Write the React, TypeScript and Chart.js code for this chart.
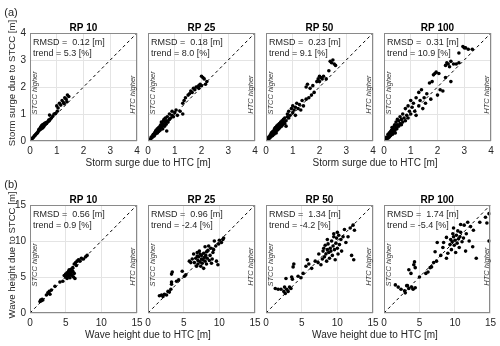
import React, { useEffect, useRef } from 'react';
import { Chart, registerables } from 'chart.js';
Chart.register(...registerables);

type Pt = [number, number];

// ---------------- data ----------------
const surgeRP10: Pt[] = [
  [0.02, 0.02], [0.05, 0.05], [0.08, 0.09], [0.1, 0.11], [0.12, 0.13], [0.15, 0.17], [0.18, 0.2], [0.2, 0.22],
  [0.22, 0.25], [0.25, 0.28], [0.27, 0.3], [0.3, 0.33], [0.32, 0.38], [0.33, 0.42], [0.35, 0.4], [0.36, 0.45],
  [0.38, 0.44], [0.4, 0.47], [0.4, 0.52], [0.42, 0.45], [0.43, 0.55], [0.45, 0.5], [0.45, 0.58], [0.47, 0.48],
  [0.48, 0.6], [0.5, 0.52], [0.5, 0.62], [0.52, 0.55], [0.55, 0.6], [0.55, 0.66], [0.58, 0.62], [0.6, 0.68],
  [0.62, 0.65], [0.65, 0.7], [0.68, 0.72], [0.7, 0.78], [0.72, 0.75], [0.75, 0.8], [0.73, 0.96], [0.8, 0.85],
  [0.85, 0.92], [0.9, 1.0], [0.95, 1.02], [1.0, 1.3], [1.02, 1.1], [1.05, 1.22], [1.1, 1.4], [1.15, 1.33],
  [1.2, 1.5], [1.25, 1.42], [1.3, 1.6], [1.35, 1.55], [1.4, 1.7], [1.45, 1.65], [1.38, 1.45], [1.28, 1.38],
];
const surgeRP25: Pt[] = [
  [0.05, 0.05], [0.1, 0.08], [0.12, 0.15], [0.15, 0.12], [0.18, 0.2], [0.2, 0.25], [0.22, 0.18], [0.25, 0.3],
  [0.25, 0.22], [0.28, 0.35], [0.3, 0.28], [0.3, 0.4], [0.32, 0.32], [0.35, 0.45], [0.35, 0.3], [0.38, 0.38],
  [0.4, 0.5], [0.4, 0.35], [0.42, 0.42], [0.45, 0.55], [0.45, 0.4], [0.48, 0.6], [0.5, 0.48], [0.5, 0.7],
  [0.52, 0.55], [0.55, 0.65], [0.55, 0.45], [0.58, 0.75], [0.6, 0.6], [0.6, 0.8], [0.62, 0.55], [0.65, 0.7],
  [0.65, 0.85], [0.68, 0.62], [0.7, 0.75], [0.72, 0.9], [0.75, 0.7], [0.7, 0.37], [0.8, 0.8], [0.8, 1.0],
  [0.85, 0.85], [0.9, 1.1], [0.9, 0.95], [0.95, 0.9], [1.0, 1.05], [1.05, 1.15], [1.1, 0.95], [1.2, 1.1],
  [1.3, 1.0], [1.3, 1.4], [1.35, 1.5], [1.4, 1.6], [1.5, 1.7], [1.55, 1.75], [1.6, 1.85], [1.65, 1.8],
  [1.7, 1.95], [1.75, 1.9], [1.8, 2.0], [1.85, 2.0], [1.9, 1.95], [1.95, 2.1], [2.0, 2.4], [2.05, 2.35],
  [2.1, 2.3], [2.0, 2.05], [2.15, 2.1], [2.2, 2.2], [1.9, 2.05],
];
const surgeRP50: Pt[] = [
  [0.02, 0.03], [0.05, 0.08], [0.08, 0.05], [0.1, 0.15], [0.12, 0.1], [0.15, 0.2], [0.15, 0.12], [0.18, 0.25],
  [0.2, 0.18], [0.2, 0.3], [0.22, 0.22], [0.25, 0.35], [0.25, 0.2], [0.28, 0.3], [0.3, 0.4], [0.3, 0.25],
  [0.32, 0.45], [0.35, 0.35], [0.35, 0.5], [0.38, 0.3], [0.4, 0.45], [0.4, 0.55], [0.42, 0.4], [0.45, 0.5],
  [0.45, 0.6], [0.48, 0.45], [0.5, 0.55], [0.5, 0.65], [0.52, 0.5], [0.55, 0.6], [0.55, 0.7], [0.58, 0.55],
  [0.6, 0.65], [0.6, 0.75], [0.62, 0.6], [0.65, 0.8], [0.68, 0.7], [0.7, 0.65], [0.7, 0.85], [0.75, 0.75],
  [0.75, 0.55], [0.8, 0.9], [0.8, 1.0], [0.85, 0.85], [0.85, 1.1], [0.9, 0.95], [0.95, 1.2], [1.0, 1.05],
  [1.0, 1.3], [1.05, 1.15], [1.1, 1.25], [1.1, 0.95], [1.15, 1.4], [1.2, 1.2], [1.25, 1.35], [1.3, 1.15],
  [1.35, 1.5], [1.4, 1.3], [1.5, 1.55], [1.5, 2.0], [1.55, 2.1], [1.6, 1.6], [1.65, 1.95], [1.7, 1.7],
  [1.75, 2.05], [1.8, 1.8], [1.9, 2.2], [1.95, 2.3], [2.0, 2.4], [2.05, 2.35], [2.1, 2.3], [2.15, 2.4],
  [2.0, 2.2], [2.25, 2.3], [2.4, 2.95], [2.45, 2.9], [2.5, 3.0], [2.55, 2.85], [2.6, 2.8], [2.35, 2.6],
];
const surgeRP100: Pt[] = [
  [0.03, 0.05], [0.05, 0.1], [0.08, 0.06], [0.1, 0.15], [0.12, 0.12], [0.15, 0.25], [0.15, 0.1], [0.18, 0.2],
  [0.2, 0.3], [0.2, 0.15], [0.22, 0.25], [0.25, 0.35], [0.25, 0.2], [0.28, 0.4], [0.3, 0.3], [0.3, 0.5],
  [0.32, 0.25], [0.35, 0.45], [0.35, 0.35], [0.38, 0.55], [0.4, 0.4], [0.4, 0.6], [0.42, 0.3], [0.45, 0.5],
  [0.45, 0.7], [0.48, 0.45], [0.5, 0.6], [0.5, 0.8], [0.55, 0.55], [0.55, 0.75], [0.6, 0.65], [0.6, 0.9],
  [0.65, 0.6], [0.65, 0.8], [0.7, 0.7], [0.7, 1.0], [0.75, 0.85], [0.8, 0.75], [0.8, 1.2], [0.85, 0.95],
  [0.9, 1.3], [0.9, 0.85], [0.95, 1.1], [1.0, 1.5], [1.0, 1.0], [1.05, 1.25], [1.1, 1.4], [1.15, 1.1],
  [1.2, 1.6], [1.2, 0.95], [1.3, 1.3], [1.3, 1.8], [1.35, 1.5], [1.4, 1.9], [1.45, 1.2], [1.5, 1.6],
  [1.55, 1.4], [1.6, 1.75], [1.7, 2.15], [1.75, 1.55], [1.8, 2.2], [1.85, 2.45], [1.9, 2.5], [1.95, 2.55],
  [2.0, 1.7], [2.05, 2.5], [2.1, 1.9], [2.2, 1.85], [2.3, 2.8], [2.35, 2.9], [2.4, 2.85], [2.45, 2.75],
  [2.5, 2.95], [2.6, 2.85], [2.7, 2.85], [2.8, 2.9], [2.3, 2.35], [2.5, 2.2], [2.8, 3.26], [2.95, 3.5],
  [3.05, 3.45], [3.15, 3.4], [3.3, 3.4], [3.0, 3.45],
];
const waveRP10: Pt[] = [
  [1.4, 1.6], [1.5, 1.8], [1.6, 1.7], [1.7, 1.9], [1.8, 1.8], [2.3, 2.5], [2.5, 2.8], [2.7, 3.0], [2.8, 2.6],
  [3.0, 3.2], [3.5, 3.7], [4.2, 4.3], [4.6, 4.4], [4.8, 5.2], [5.0, 5.0], [5.0, 5.4], [5.2, 4.8], [5.2, 5.6],
  [5.3, 5.2], [5.4, 5.8], [5.5, 5.5], [5.5, 6.0], [5.6, 4.9], [5.6, 5.3], [5.7, 5.9], [5.8, 5.6], [5.8, 6.1],
  [5.9, 5.2], [6.0, 5.8], [6.0, 6.3], [6.1, 5.0], [6.2, 5.5], [6.3, 4.8], [6.2, 6.8], [6.4, 7.0], [6.5, 6.6],
  [6.6, 7.2], [6.8, 7.4], [7.0, 7.2], [7.2, 7.6], [7.5, 7.5], [7.8, 7.8], [8.0, 8.0], [5.0, 5.3], [5.4, 5.1],
];
const waveRP25: Pt[] = [
  [1.6, 2.4], [1.9, 2.5], [2.1, 2.3], [2.3, 2.6], [2.6, 2.5], [2.8, 3.0], [3.0, 2.9], [3.2, 3.3], [3.3, 4.0],
  [3.3, 4.3], [3.3, 5.4], [3.4, 5.7], [4.0, 4.4], [4.3, 4.6], [4.8, 5.8], [5.1, 5.1], [5.3, 5.3], [5.8, 7.2],
  [6.2, 7.5], [6.4, 8.2], [6.5, 7.0], [6.7, 7.6], [6.8, 6.5], [6.9, 8.4], [7.0, 7.3], [7.0, 6.8], [7.1, 7.8],
  [7.2, 8.6], [7.3, 7.1], [7.4, 6.5], [7.5, 7.5], [7.5, 8.0], [7.6, 6.9], [7.7, 7.4], [7.8, 8.3], [7.8, 6.2],
  [7.9, 7.7], [8.0, 7.2], [8.0, 9.2], [8.1, 8.0], [8.2, 6.8], [8.3, 7.6], [8.4, 8.7], [8.5, 9.3], [8.6, 7.3],
  [8.7, 8.0], [8.8, 9.0], [8.9, 6.9], [9.0, 7.5], [9.1, 8.4], [9.2, 8.8], [9.3, 10.0], [9.5, 9.3], [9.6, 7.2],
  [9.8, 6.7], [9.9, 9.6], [10.0, 10.1], [10.3, 9.8], [10.5, 10.2], [10.6, 10.4], [6.9, 7.9], [7.3, 8.2],
  [8.2, 8.5], [6.0, 7.0],
];
const waveRP50: Pt[] = [
  [1.3, 3.4], [1.7, 3.3], [2.1, 3.3], [2.5, 3.0], [2.6, 3.6], [2.7, 2.7], [2.9, 3.3], [3.1, 3.0], [3.3, 3.6],
  [3.5, 3.4], [2.8, 4.8], [3.6, 5.0], [3.7, 4.7], [3.8, 6.4], [3.9, 6.8], [4.5, 5.1], [4.9, 4.9], [5.2, 5.5],
  [5.6, 6.5], [5.8, 7.4], [6.0, 6.8], [6.4, 6.2], [6.9, 7.2], [7.3, 7.0], [7.4, 8.2], [7.7, 6.7], [7.9, 7.5],
  [8.0, 8.6], [8.1, 9.0], [8.2, 7.8], [8.3, 9.4], [8.4, 8.2], [8.5, 7.2], [8.6, 8.8], [8.7, 9.6], [8.8, 8.4],
  [8.9, 7.6], [9.0, 9.0], [9.1, 8.6], [9.2, 10.0], [9.3, 8.0], [9.4, 9.3], [9.5, 10.6], [9.6, 8.8], [9.7, 7.4],
  [9.8, 9.7], [9.9, 10.4], [10.0, 9.0], [10.1, 8.2], [10.2, 10.8], [10.3, 9.5], [10.5, 10.2], [10.6, 8.6],
  [10.8, 10.6], [11.0, 11.6], [11.2, 9.8], [11.5, 10.6], [12.0, 8.0], [12.3, 7.4], [11.8, 11.8], [12.2, 12.2],
  [12.4, 11.5], [9.5, 11.0], [10.0, 11.2], [8.6, 10.2],
];
const waveRP100: Pt[] = [
  [1.6, 3.9], [2.0, 3.6], [2.4, 3.3], [2.9, 3.1], [3.2, 3.8], [3.3, 3.8], [3.5, 3.4], [3.9, 3.6], [4.1, 3.3],
  [4.4, 3.5], [3.0, 2.8], [3.5, 6.0], [3.8, 5.5], [4.2, 6.7], [4.3, 7.1], [4.4, 6.3], [5.0, 5.0], [5.9, 5.5],
  [6.2, 5.7], [6.7, 6.4], [7.0, 7.0], [7.2, 8.5], [7.4, 7.2], [8.0, 8.0], [8.3, 9.1], [8.4, 9.8], [8.8, 7.6],
  [9.0, 8.3], [9.3, 9.5], [9.4, 10.2], [9.5, 8.8], [9.6, 9.9], [9.7, 11.0], [9.8, 10.6], [9.9, 9.4], [10.0, 10.1],
  [10.1, 8.4], [10.2, 10.8], [10.3, 9.7], [10.4, 11.4], [10.5, 10.3], [10.6, 9.1], [10.7, 10.6], [10.8, 11.2],
  [11.0, 9.9], [11.2, 10.4], [11.3, 12.2], [11.5, 8.6], [11.6, 11.0], [11.8, 12.6], [12.0, 10.0], [12.2, 12.0],
  [12.5, 9.2], [12.6, 11.5], [13.0, 7.6], [13.5, 12.6], [14.3, 13.3], [14.8, 13.8], [14.8, 10.0], [14.5, 12.5],
  [8.8, 10.5], [9.8, 11.8], [10.8, 12.3], [7.5, 9.8], [6.5, 6.3],
];

const rpTitles = ['RP 10', 'RP 25', 'RP 50', 'RP 100'];
const surgeRMSD = ['0.12', '0.18', '0.23', '0.31'];
const surgeTrend = ['5.3', '8.0', '9.1', '10.9'];
const waveRMSD = ['0.56', '0.96', '1.34', '1.74'];
const waveTrend = ['0.9', '-2.4', '-4.2', '-5.4'];
const surgeTicks = [0, 1, 2, 3, 4];
const waveTicks = [0, 5, 10, 15];
const surgeXLabel = 'Storm surge due to HTC [m]';
const surgeYLabel = 'Storm surge due to STCC [m]';
const waveXLabel = 'Wave height due to HTC [m]';
const waveYLabel = 'Wave height due to STCC [m]';
const rowTags = ['(a)', '(b)'];
const leftNote = 'STCC higher';
const rightNote = 'HTC higher';

// ---------------- layout ----------------
const W = 500;
const H = 346;
const PANEL_LEFTS = [30, 148, 266, 384];
const PANEL_W = 107;
const PANEL_H = 108;
const ROW_TOPS = [33, 205];
const YW = 26;
const XH = 16;
const FONT = '"Liberation Sans", Arial, Helvetica, sans-serif';
const TEXT = '#262626';

interface PanelProps {
  pts: Pt[];
  ticks: number[];
  left: number;
  top: number;
  title: string;
  rmsd: string;
  trend: string;
  showY: boolean;
}

function Panel({ pts, ticks, left, top, title, rmsd, trend, showY }: PanelProps) {
  const ref = useRef<HTMLCanvasElement>(null);
  useEffect(() => {
    if (!ref.current) return;
    const max = ticks[ticks.length - 1];
    const setTicks = (s: any) => {
      s.ticks = ticks.map((v) => ({ value: v }));
    };
    const deco = {
      id: 'deco',
      afterDraw(chart: any) {
        const { ctx, chartArea: a } = chart;
        ctx.save();
        ctx.strokeStyle = '#8a8a8a';
        ctx.lineWidth = 1;
        ctx.strokeRect(Math.round(a.left) + 0.5, Math.round(a.top) + 0.5, Math.round(a.right - a.left) - 1, Math.round(a.bottom - a.top) - 1);
        const cx = (a.left + a.right) / 2;
        ctx.fillStyle = '#000';
        ctx.font = `bold 10px ${FONT}`;
        ctx.textAlign = 'center';
        ctx.textBaseline = 'middle';
        ctx.fillText(title, cx, a.top - 5);
        ctx.fillStyle = TEXT;
        ctx.font = `9px ${FONT}`;
        ctx.textAlign = 'left';
        ctx.fillText(`RMSD =  ${rmsd} [m]`, a.left + 3, a.top + 10);
        ctx.fillText(`trend = ${trend} [%]`, a.left + 3, a.top + 21);
        ctx.font = `italic 7.5px ${FONT}`;
        ctx.fillStyle = '#3a3a3a';
        ctx.textAlign = 'center';
        const h = a.bottom - a.top;
        ctx.save();
        ctx.translate(a.left + 4.5, a.top + h * 0.555);
        ctx.rotate(-Math.PI / 2);
        ctx.fillText(leftNote, 0, 0);
        ctx.restore();
        ctx.save();
        ctx.translate(a.right - 4, a.top + h * 0.57);
        ctx.rotate(-Math.PI / 2);
        ctx.fillText(rightNote, 0, 0);
        ctx.restore();
        ctx.restore();
      },
    };
    const tickFont = { family: FONT, size: 10 };
    const chart = new Chart(ref.current, {
      type: 'scatter',
      data: {
        datasets: [
          {
            data: [{ x: 0, y: 0 }, { x: max, y: max }],
            showLine: true,
            borderColor: '#000',
            borderWidth: 1,
            borderDash: [3, 3],
            pointRadius: 0,
          },
          {
            data: pts.map(([x, y]) => ({ x, y })),
            backgroundColor: '#000',
            borderWidth: 0,
            pointRadius: 1.8,
          },
        ],
      },
      options: {
        responsive: false,
        animation: false,
        events: [],
        layout: {
          padding: {
            left: left - YW,
            top: top,
            right: W - left - PANEL_W,
            bottom: H - top - PANEL_H - XH,
          },
        },
        plugins: { legend: { display: false }, tooltip: { enabled: false }, title: { display: false } },
        scales: {
          x: {
            type: 'linear',
            min: 0,
            max,
            afterBuildTicks: setTicks,
            afterFit: (s: any) => {
              s.height = XH;
            },
            grid: { color: '#e4e4e4', drawTicks: false, lineWidth: 1 },
            border: { display: false },
            ticks: { padding: 4, color: TEXT, font: tickFont, maxRotation: 0, autoSkip: false },
          },
          y: {
            type: 'linear',
            min: 0,
            max,
            afterBuildTicks: setTicks,
            afterFit: (s: any) => {
              s.width = YW;
            },
            grid: { color: '#e4e4e4', drawTicks: false, lineWidth: 1 },
            border: { display: false },
            ticks: { display: showY, padding: 4, color: TEXT, font: tickFont, autoSkip: false },
          },
        },
      },
      plugins: [deco],
    } as any);
    return () => chart.destroy();
  }, []);
  return <canvas ref={ref} width={W} height={H} style={{ position: 'absolute', left: 0, top: 0 }} />;
}

const txt: React.CSSProperties = {
  position: 'absolute',
  fontFamily: FONT,
  color: TEXT,
  whiteSpace: 'nowrap',
  lineHeight: 1,
};

function Label({ text, x, y, size, rotate }: { text: string; x: number; y: number; size: number; rotate?: boolean }) {
  return (
    <div
      style={{
        ...txt,
        left: x,
        top: y,
        fontSize: size,
        transform: `translate(-50%, -50%)${rotate ? ' rotate(-90deg)' : ''}`,
      }}
    >
      {text}
    </div>
  );
}

export default function App() {
  const rows = [
    { data: [surgeRP10, surgeRP25, surgeRP50, surgeRP100], ticks: surgeTicks, rmsd: surgeRMSD, trend: surgeTrend, xl: surgeXLabel, yl: surgeYLabel },
    { data: [waveRP10, waveRP25, waveRP50, waveRP100], ticks: waveTicks, rmsd: waveRMSD, trend: waveTrend, xl: waveXLabel, yl: waveYLabel },
  ];
  return (
    <div style={{ position: 'absolute', left: 0, top: 0, width: W, height: H, background: '#fff', overflow: 'hidden' }}>
      {rows.map((r, ri) =>
        r.data.map((pts, pi) => (
          <Panel
            key={`${ri}-${pi}`}
            pts={pts}
            ticks={r.ticks}
            left={PANEL_LEFTS[pi]}
            top={ROW_TOPS[ri]}
            title={rpTitles[pi]}
            rmsd={r.rmsd[pi]}
            trend={r.trend[pi]}
            showY={pi === 0}
          />
        ))
      )}
      {rows.map((r, ri) => (
        <React.Fragment key={`lab-${ri}`}>
          <Label text={rowTags[ri]} x={11} y={ROW_TOPS[ri] - 21} size={11} />
          <Label text={r.yl} x={12} y={ROW_TOPS[ri] + 50} size={9.6} rotate />
          <Label text={r.xl} x={148} y={ROW_TOPS[ri] + PANEL_H + 22} size={10} />
          <Label text={r.xl} x={375} y={ROW_TOPS[ri] + PANEL_H + 22} size={10} />
        </React.Fragment>
      ))}
    </div>
  );
}
